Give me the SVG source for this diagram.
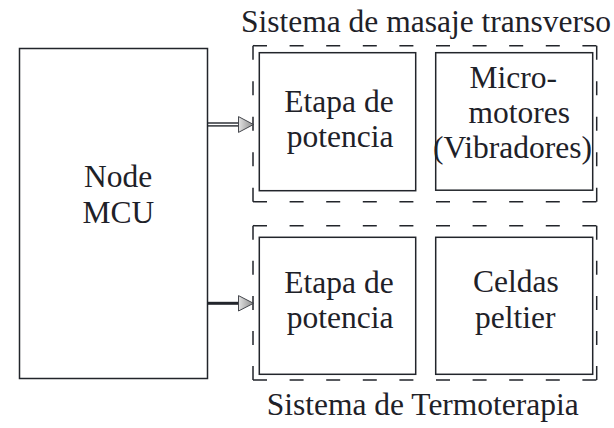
<svg xmlns="http://www.w3.org/2000/svg" width="614" height="428" viewBox="0 0 614 428">
<style>
.box{fill:none;stroke:#22252b;stroke-width:1.5}
.dash{fill:none;stroke:#22252b;stroke-width:1.5}
text{font-family:'Liberation Serif','Times New Roman',serif;font-size:31.5px;fill:#1e2128}
.ln{stroke:#22252b;fill:none}
.head{fill:url(#g);stroke:#33363c;stroke-width:0.9}
</style>
<defs>
<linearGradient id="g" x1="0" y1="0" x2="1" y2="0">
<stop offset="0" stop-color="#e2e2e2"/>
<stop offset="1" stop-color="#8c8c8c"/>
</linearGradient>
</defs>
<rect width="614" height="428" fill="#ffffff"/>

<g id="group-masaje">
<path class="dash" d="M253,45.7 H596.7" stroke-dasharray="14 22.6"/>
<path class="dash" d="M253,201.7 H596.7" stroke-dasharray="14 22.6"/>
<path class="dash" d="M253,45.7 V201.7" stroke-dasharray="14 21.5"/>
<path class="dash" d="M596.7,45.7 V201.7" stroke-dasharray="14 21.5"/>
<text x="241" y="32">Sistema de masaje transverso</text>
</g>

<g id="group-termo">
<path class="dash" d="M253,225.7 H596.7" stroke-dasharray="14 22.6"/>
<path class="dash" d="M253,380 H596.7" stroke-dasharray="14 22.6"/>
<path class="dash" d="M253,225.7 V380" stroke-dasharray="14 21.1"/>
<path class="dash" d="M596.7,225.7 V380" stroke-dasharray="14 21.1"/>
<text x="266.7" y="415">Sistema de Termoterapia</text>
</g>

<g id="node-mcu">
<rect class="box" x="19.5" y="48.5" width="188" height="330"/>
<text x="84" y="186.7">Node</text>
<text x="82.6" y="222.7">MCU</text>
</g>

<g id="node-etapa1">
<rect class="box" x="259.3" y="52.7" width="156.4" height="138"/>
<text x="284.3" y="111.7">Etapa de</text>
<text x="286.7" y="146.7">potencia</text>
</g>

<g id="node-micro">
<rect class="box" x="435.7" y="52.7" width="157" height="137.5"/>
<text x="469.5" y="88.3">Micro-</text>
<text x="468.6" y="123.3">motores</text>
<text x="433" y="158.3">(Vibradores)</text>
</g>

<g id="node-etapa2">
<rect class="box" x="259.3" y="237.3" width="156.4" height="137"/>
<text x="284.3" y="293.3">Etapa de</text>
<text x="286.7" y="328">potencia</text>
</g>

<g id="node-celdas">
<rect class="box" x="435.7" y="237.3" width="157" height="137"/>
<text x="473" y="291.7">Celdas</text>
<text x="475" y="328.3">peltier</text>
</g>

<g id="connectors">
<line class="ln" x1="207.5" y1="123" x2="238.5" y2="123" stroke-width="1.4"/>
<line class="ln" x1="207.5" y1="125.9" x2="238.5" y2="125.9" stroke-width="1.4"/>
<polygon class="head" points="238.5,116.6 253.5,124.5 238.5,132.4"/>
<line class="ln" x1="207.5" y1="303.3" x2="238.5" y2="303.3" stroke-width="3"/>
<polygon class="head" points="238.5,295.6 253.5,303.3 238.5,311"/>
</g>
</svg>
